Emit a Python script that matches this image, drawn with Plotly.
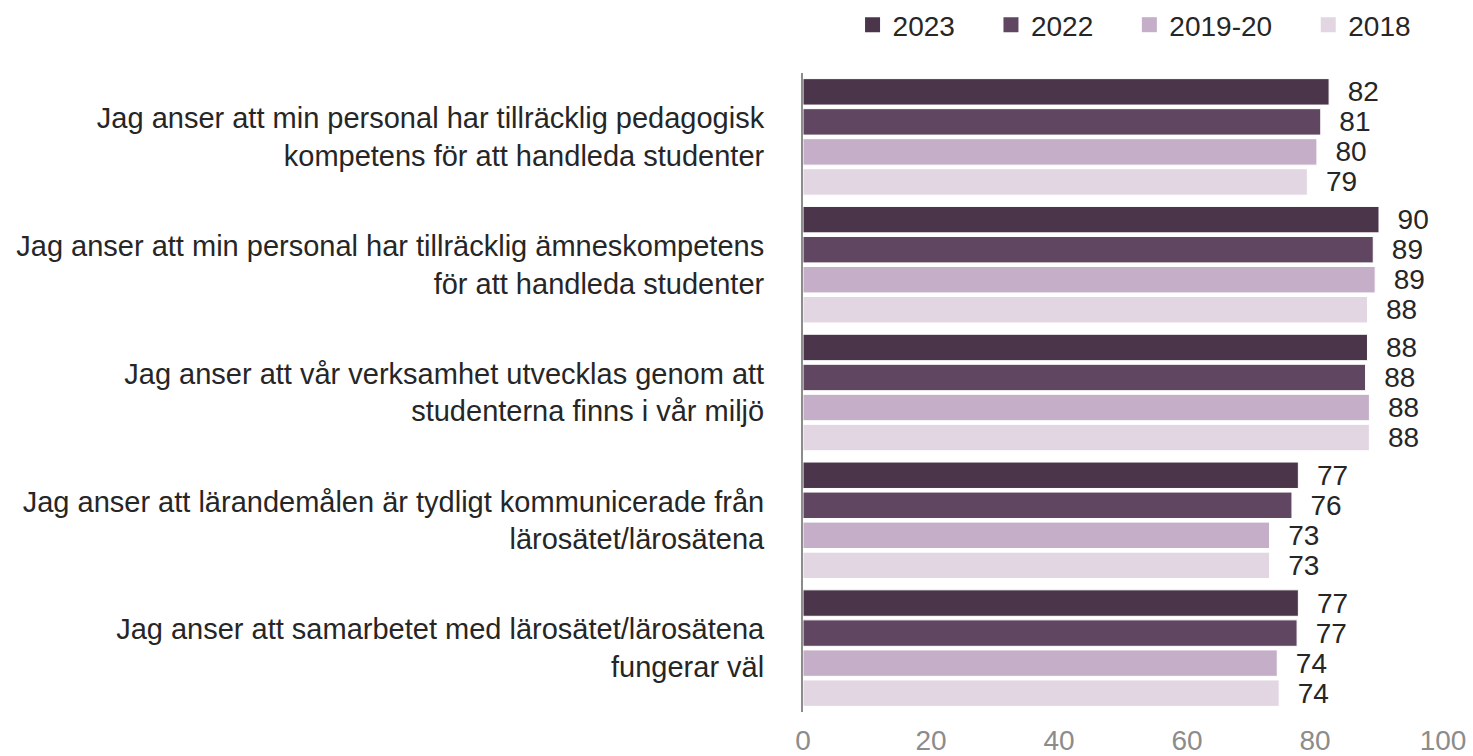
import plotly.graph_objects as go

questions = [
    "Jag anser att min personal har tillräcklig pedagogisk<br>kompetens för att handleda studenter",
    "Jag anser att min personal har tillräcklig ämneskompetens<br>för att handleda studenter",
    "Jag anser att vår verksamhet utvecklas genom att<br>studenterna finns i vår miljö",
    "Jag anser att lärandemålen är tydligt kommunicerade från<br>lärosätet/lärosätena",
    "Jag anser att samarbetet med lärosätet/lärosätena<br>fungerar väl",
]

years = ["2023", "2022", "2019-20", "2018"]

values_2023 = [82.2, 90.0, 88.2, 77.4, 77.4]
values_2022 = [80.9, 89.1, 87.9, 76.4, 77.2]
values_2019_20 = [80.3, 89.4, 88.5, 72.9, 74.1]
values_2018 = [78.8, 88.2, 88.5, 72.9, 74.4]

colors = ["#4b354a", "#614662", "#c5aec8", "#e2d6e3"]

fig = go.Figure()
series = [values_2023, values_2022, values_2019_20, values_2018]
for year, vals, color in zip(years, series, colors):
    fig.add_trace(
        go.Bar(
            y=questions,
            x=vals,
            orientation='h',
            name=year,
            showlegend=False,
            marker=dict(color=color, line=dict(color='white', width=1)),
            text=[f"{round(v):d}" for v in vals],
            texttemplate="\u00a0\u00a0%{text}",
            textposition='outside',
            textfont=dict(size=28, color='#262626'),
            cliponaxis=False,
        )
    )

# legend-only traces so the legend squares can be bigger than plotly's bar icon
for i, (year, color) in enumerate(zip(years, colors)):
    pad = "\u00a0" * 4 if i < len(years) - 1 else ""
    fig.add_trace(
        go.Scatter(
            x=[None],
            y=[None],
            mode='markers',
            name=year + pad,
            marker=dict(symbol='square', size=15, color=color),
        )
    )

fig.update_layout(
    width=1473,
    height=756,
    barmode='group',
    bargap=0.06,
    bargroupgap=0.12,
    plot_bgcolor='white',
    paper_bgcolor='white',
    font=dict(family="Liberation Sans, Arial, sans-serif", color='#262626'),
    margin=dict(l=803, r=30, t=73, b=44),
    uniformtext=dict(minsize=28, mode='show'),
    legend=dict(
        orientation='h',
        x=0.961,
        xref='container',
        xanchor='right',
        y=1.0,
        yref='container',
        yanchor='top',
        font=dict(size=28, color='#262626'),
        itemwidth=30,
        traceorder='normal',
    ),
)

fig.update_xaxes(
    range=[0, 100],
    tickvals=[0, 20, 40, 60, 80, 100],
    showgrid=False,
    zeroline=False,
    showline=False,
    tickfont=dict(size=28, color='#8c8c8c'),
    ticklabelstandoff=9,
    automargin=False,
)

fig.update_yaxes(
    autorange='reversed',
    showgrid=False,
    showline=True,
    linecolor='#8c8c8c',
    linewidth=2,
    tickfont=dict(size=29, color='#262626'),
    ticklabelstandoff=31,
    automargin=False,
)

fig.write_html(
    "out.html",
    config={'displayModeBar': False},
    post_script="document.body.style.margin='0';",
)
